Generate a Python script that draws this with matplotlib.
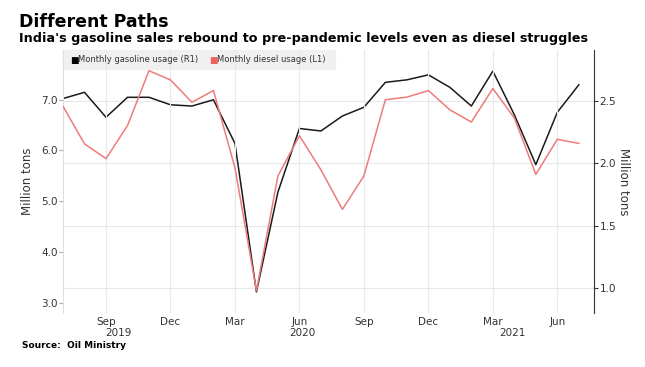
import numpy as np
import matplotlib
matplotlib.use('Agg')
import matplotlib.pyplot as plt

# monthly data, Jul 2019 .. Jul 2021
months = ['Jul 2019', 'Aug 2019', 'Sep 2019', 'Oct 2019', 'Nov 2019', 'Dec 2019',
          'Jan 2020', 'Feb 2020', 'Mar 2020', 'Apr 2020', 'May 2020', 'Jun 2020',
          'Jul 2020', 'Aug 2020', 'Sep 2020', 'Oct 2020', 'Nov 2020', 'Dec 2020',
          'Jan 2021', 'Feb 2021', 'Mar 2021', 'Apr 2021', 'May 2021', 'Jun 2021',
          'Jul 2021']
gasoline = [2.52, 2.57, 2.37, 2.53, 2.53, 2.47, 2.46, 2.51, 2.16, 0.97, 1.77, 2.28,
            2.26, 2.38, 2.45, 2.65, 2.67, 2.71, 2.61, 2.46, 2.74, 2.39, 1.99, 2.41,
            2.63]
diesel = [6.87, 6.13, 5.84, 6.49, 7.57, 7.39, 6.95, 7.18, 5.66, 3.24, 5.50, 6.29,
          5.62, 4.84, 5.50, 7.00, 7.05, 7.18, 6.80, 6.56, 7.22, 6.64, 5.53, 6.22,
          6.14]
tick_months = ['Sep 2019', 'Dec 2019', 'Mar 2020', 'Jun 2020',
               'Sep 2020', 'Dec 2020', 'Mar 2021', 'Jun 2021']
years = ['2019', '2020', '2021']
left_ticks = [3.0, 4.0, 5.0, 6.0, 7.0]
right_ticks = [1.0, 1.5, 2.0, 2.5]

plt.rcParams['font.family'] = ['DejaVu Sans']

x = np.arange(len(months))
tick_pos = [months.index(m) for m in tick_months]
tick_labels = [m.split()[0] for m in tick_months]
year_pos = [2.56, 11.16, 20.9]

black = '#1a1a1a'
red = '#ef7b7b'
grid = '#e8e8e8'
text = '#333333'

fig = plt.figure(figsize=(6.45, 3.67), dpi=100)
ax = fig.add_axes([0.0977, 0.147, 0.823, 0.717])
ax2 = ax.twinx()

# diesel on the left axis
ax.plot(x, diesel, color=red, lw=1.1, zorder=3)
ax.set_ylim(2.80, 7.98)
ax.set_yticks(left_ticks)
ax.set_yticklabels(['%.1f' % v for v in left_ticks])
ax.set_xlim(0, 24.7)
ax.set_xticks(tick_pos)
ax.set_xticklabels(tick_labels)
ax.tick_params(axis='x', length=0, labelsize=7.5, colors=text, pad=3)
ax.tick_params(axis='y', length=3, color='#aaaaaa', labelsize=7.5, labelcolor=text, pad=1)
ax.grid(axis='x', color=grid, lw=0.8)
ax.set_ylabel('Million tons', fontsize=8.5, color=text, labelpad=5)
for s in ['top', 'right', 'bottom']:
    ax.spines[s].set_visible(False)
ax.spines['left'].set_color('#e0e0e0')

for yr, p in zip(years, year_pos):
    ax.text(p, -0.076, yr, transform=ax.get_xaxis_transform(), ha='center', va='center',
            fontsize=7.5, color=text)

# gasoline on the right axis
ax2.plot(x, gasoline, color=black, lw=1.1, zorder=4)
ax2.set_ylim(0.80, 2.91)
ax2.set_yticks(right_ticks)
ax2.set_yticklabels(['%.1f' % v for v in right_ticks])
ax2.tick_params(axis='y', length=3, color='#333333', labelsize=7.5, labelcolor=text, pad=1)
ax2.grid(axis='y', color=grid, lw=0.8)
ax2.set_ylabel('Million tons', fontsize=8.5, color=text, rotation=270, labelpad=10)
for s in ['top', 'left', 'bottom']:
    ax2.spines[s].set_visible(False)
ax2.spines['right'].set_color('#333333')
ax.set_zorder(ax2.get_zorder() + 1)
ax.patch.set_visible(False)

# legend strip
fig.patches.append(plt.Rectangle((63 / 645, 1 - 69 / 367), 272 / 645, 19 / 367,
                                 transform=fig.transFigure, color='#f0f0f0', zorder=0))
ly = 1 - 60.5 / 367
fig.text(70 / 645, ly, '\u25a0', color='black', fontsize=6.5, va='center')
fig.text(78 / 645, 1 - 60 / 367, 'Monthly gasoline usage (R1)', color=text, fontsize=6, va='center')
fig.text(209 / 645, ly, '\u25a0', color='#f06060', fontsize=6.5, va='center')
fig.text(217 / 645, 1 - 60 / 367, 'Monthly diesel usage (L1)', color=text, fontsize=6, va='center')

fig.text(19 / 645, 1 - 27 / 367, 'Different Paths', fontsize=12.5, fontweight='heavy',
         color='black', va='baseline')
fig.text(19 / 645, 1 - 42 / 367,
         "India's gasoline sales rebound to pre-pandemic levels even as diesel struggles",
         fontsize=9.2, fontweight='bold', color='black', va='baseline')
fig.text(22 / 645, 1 - 346 / 367, 'Source:  Oil Ministry', fontsize=6.5, fontweight='bold',
         color='black', va='center')

fig.savefig('out.png', dpi=100)
